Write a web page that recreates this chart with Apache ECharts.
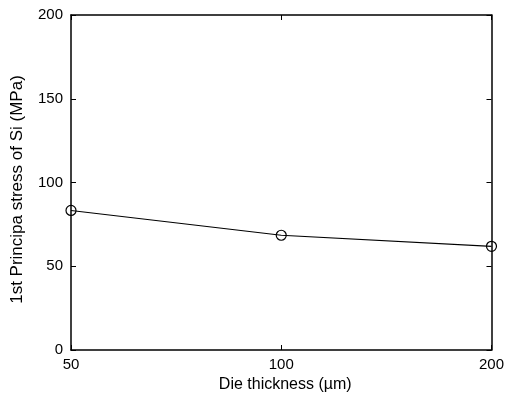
<!DOCTYPE html>
<html><head><meta charset="utf-8">
<script src="https://cdn.jsdelivr.net/npm/echarts@6/dist/echarts.min.js"></script>
<style>html,body{margin:0;padding:0;background:#fff}#c{width:507px;height:398px}</style>
</head><body><div id="c"></div>
<script>
var categories = ["50", "100", "200"];
var stressValues = [83.3, 68.5, 61.9];
var yTicks = [0, 50, 100, 150, 200];

var chart = echarts.init(document.getElementById('c'));
var font = 'Liberation Sans, Arial, sans-serif';
var axisLine = {show: true, onZero: false, lineStyle: {color: '#000', width: 1.5}};
var tick = {show: true, inside: true, length: 5, lineStyle: {color: '#000'}};
chart.setOption({
  animation: false,
  grid: {left: 71, top: 15, right: 15, bottom: 46, containLabel: false},
  xAxis: [{
    type: 'category', data: categories, boundaryGap: false,
    axisLine: axisLine, axisTick: tick,
    axisLabel: {color: '#000', fontSize: 15, fontFamily: font, margin: 7},
    name: 'Die thickness (\u00b5m)', nameLocation: 'middle', nameGap: 27,
    nameTextStyle: {color: '#000', fontSize: 16, fontFamily: font, padding: [0, 0, 0, 8]},
    splitLine: {show: false}
  }, {
    type: 'category', data: categories, boundaryGap: false, position: 'top',
    axisLine: axisLine, axisTick: tick,
    axisLabel: {show: false}, splitLine: {show: false}
  }],
  yAxis: [{
    type: 'value', min: yTicks[0], max: yTicks[yTicks.length - 1], interval: 50,
    axisLine: axisLine, axisTick: tick,
    axisLabel: {color: '#000', fontSize: 15, fontFamily: font, margin: 8},
    name: '1st Principa stress of Si (MPa)', nameLocation: 'middle', nameGap: 45,
    nameTextStyle: {color: '#000', fontSize: 17, fontFamily: font, padding: [0, 14, 0, 0]},
    splitLine: {show: false}
  }, {
    type: 'value', min: yTicks[0], max: yTicks[yTicks.length - 1], interval: 50, position: 'right',
    axisLine: axisLine, axisTick: tick,
    axisLabel: {show: false}, splitLine: {show: false}
  }],
  series: [{
    type: 'line', data: stressValues, xAxisIndex: 0, yAxisIndex: 0,
    symbol: 'circle', symbolSize: 10,
    itemStyle: {color: 'rgba(255,255,255,0)', borderColor: '#000', borderWidth: 1.2},
    lineStyle: {color: '#000', width: 1.2}
  }]
});
</script></body></html>
